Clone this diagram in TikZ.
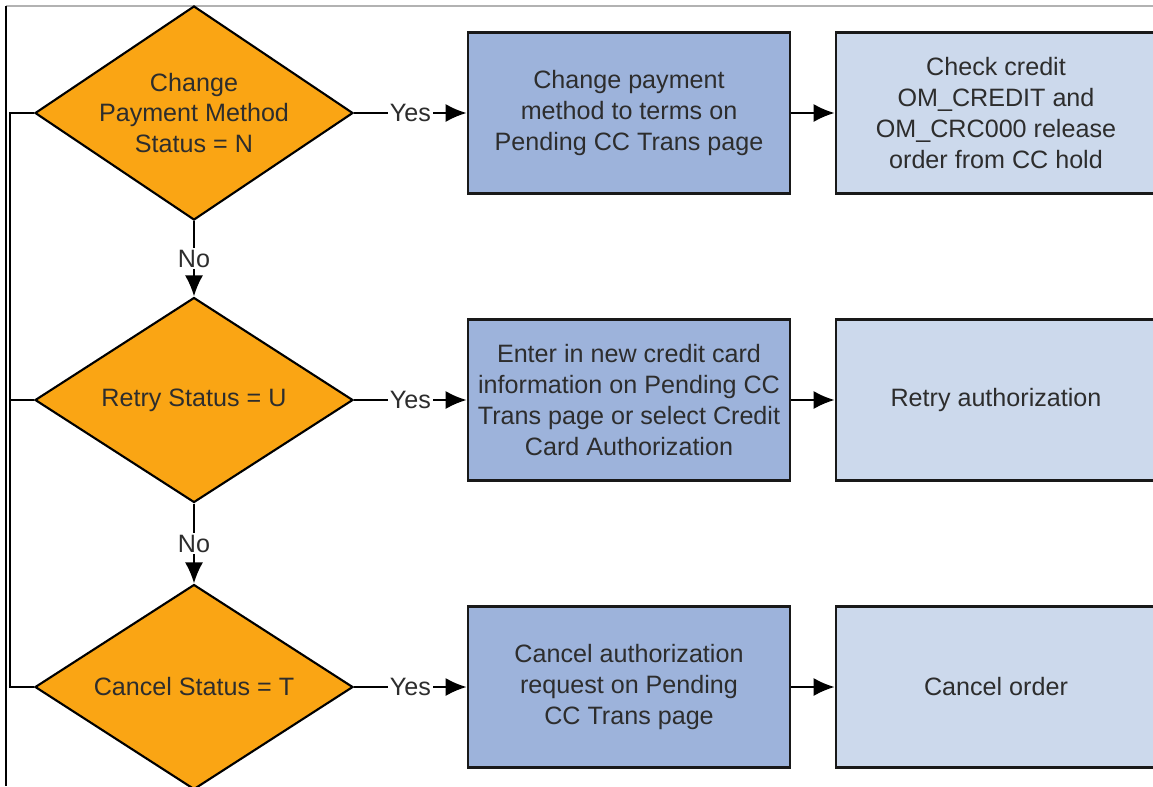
\documentclass[tikz,border=0pt]{standalone}
\usepackage{fontspec}
\setmainfont{Liberation Sans}
\usetikzlibrary{shapes.geometric,arrows.meta,positioning}
\definecolor{decorange}{RGB}{250,165,20}
\definecolor{actblue}{RGB}{157,179,219}
\definecolor{resblue}{RGB}{204,217,236}
\definecolor{txtgray}{RGB}{45,45,45}
\tikzset{
  dec/.style={diamond,draw=black,fill=decorange,line width=1.2pt,minimum width=6.36cm,minimum height=4.1cm,inner sep=-8pt,align=center,text=txtgray},
  act/.style={rectangle,draw=black!90,fill=actblue,line width=1.5pt,minimum width=6.44cm,minimum height=3.22cm,inner sep=2pt,align=center,text=txtgray},
  res/.style={act,fill=resblue,minimum width=6.4cm},
  flow/.style={line width=1.2pt,-{Latex[length=4.2mm,width=3.6mm]}},
  lbl/.style={fill=white,inner sep=1pt,text=txtgray}
}
\begin{document}
\begin{tikzpicture}[font=\fontsize{14.3}{17.6}\selectfont]
\clip (0,0) rectangle (23.06,-15.72);
\fill[white] (0,0) rectangle (23.06,-15.72);
% Frame
\draw[black!30,line width=0.6pt] (0.12,-0.12) -- (23.06,-0.12);
\draw[black,line width=0.6pt] (0.12,-0.12) -- (0.12,-15.72);
% Row 1
\draw (3.88,-2.26) node[dec](dec1){Change\\Payment Method\\Status = N};
\draw (12.58,-2.26) node[act](act1){Change payment\\method to terms on\\Pending CC Trans page};
\draw (19.92,-2.26) node[res](res1){Check credit\\OM\_CREDIT and\\OM\_CRC000 release\\order from CC hold};
% Row 2
\draw (3.88,-8.0) node[dec](dec2){Retry Status = U};
\draw (12.58,-8.0) node[act](act2){Enter in new credit card\\information on Pending CC\\Trans page or select Credit\\Card Authorization};
\draw (19.92,-8.0) node[res](res2){Retry authorization};
% Row 3
\draw (3.88,-13.74) node[dec](dec3){Cancel Status = T};
\draw (12.58,-13.74) node[act](act3){Cancel authorization\\request on Pending\\CC Trans page};
\draw (19.92,-13.74) node[res](res3){Cancel order};
% Yes branches
\draw[flow] (dec1) -- node[lbl]{Yes} (act1);
\draw[flow] (dec2) -- node[lbl]{Yes} (act2);
\draw[flow] (dec3) -- node[lbl]{Yes} (act3);
\draw[flow] (act1) -- (res1);
\draw[flow] (act2) -- (res2);
\draw[flow] (act3) -- (res3);
% No branches
\draw[flow] (dec1) -- node[lbl]{No} (dec2);
\draw[flow] (dec2) -- node[lbl]{No} (dec3);
% Left bus
\coordinate (bus1) at (0.2,-2.26);
\coordinate (bus3) at (0.2,-13.74);
\draw[line width=1.2pt] (dec1.west) -- (bus1) -- (bus3) -- (dec3.west);
\draw[line width=1.2pt] (dec2.west) -- (dec2.west -| bus1);
\end{tikzpicture}
\end{document}
